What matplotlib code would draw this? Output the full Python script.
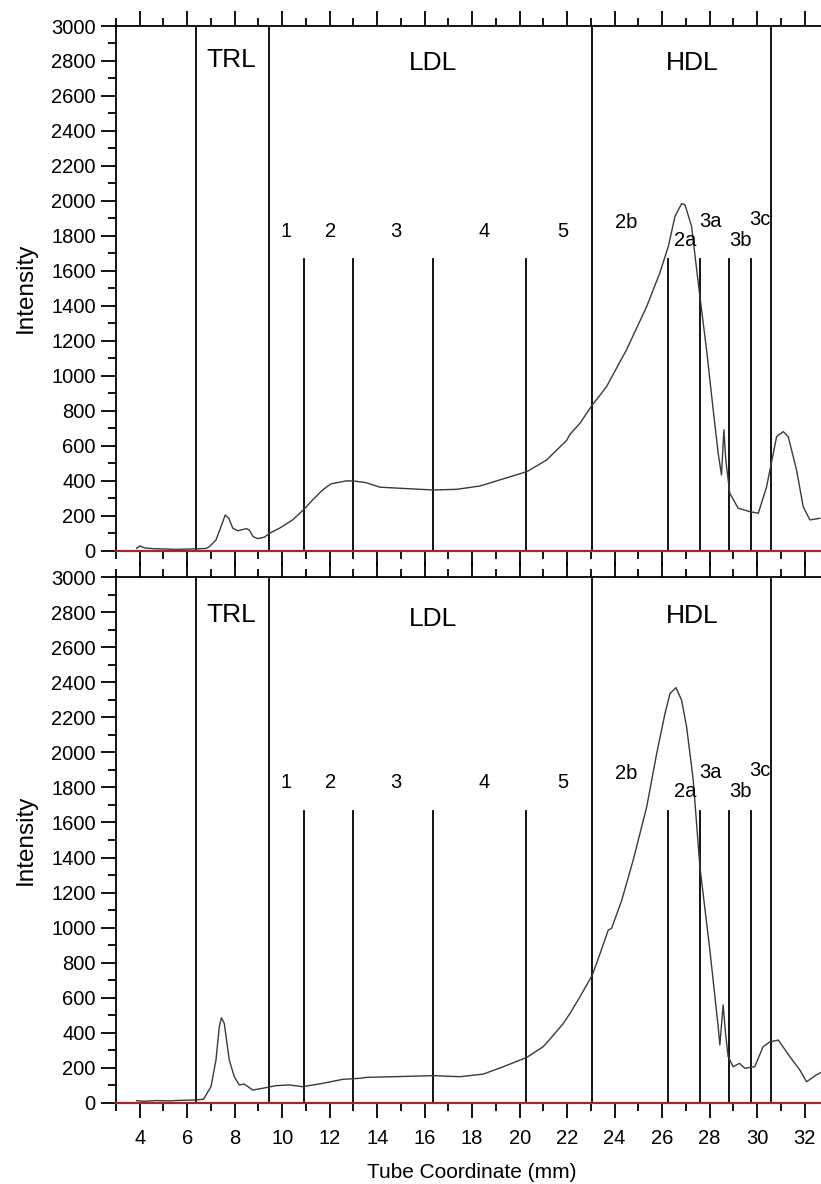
import matplotlib
matplotlib.use("Agg")
import matplotlib.pyplot as plt
from matplotlib.ticker import MultipleLocator

plt.rcParams['font.family'] = ['Liberation Sans', 'DejaVu Sans']

# Densitometric scan profiles (tube coordinate in mm, intensity)
top_x = [3.87, 4.0, 4.2, 4.6, 5.0, 5.5, 6.0, 6.5, 6.8, 6.93, 7.21, 7.42, 7.6, 7.75,
         7.92, 8.13, 8.5, 8.61, 8.78, 8.97, 9.25, 9.46, 9.88, 10.44, 10.89, 11.28,
         11.7, 12.05, 12.69, 13.0, 13.53, 14.12, 14.96, 16.36, 17.35, 18.33, 19.17,
         20.3, 21.14, 21.3, 21.98, 22.12, 22.54, 23.06, 23.38, 23.66, 24.5, 25.35,
         25.9, 26.26, 26.54, 26.82, 26.96, 27.24, 27.52, 27.87, 28.15, 28.36, 28.5,
         28.6, 28.68, 28.85, 29.2, 29.7, 30.05, 30.4, 30.82, 31.1, 31.31, 31.66,
         31.94, 32.22, 32.64]
top_y = [12, 26, 15, 10, 9, 6, 8, 10, 12, 22, 60, 136, 203, 184,
         127, 113, 125, 117, 79, 68, 76, 98, 127, 175, 232, 289,
         346, 381, 398, 398, 388, 362, 356, 346, 350, 369, 404,
         451, 518, 540, 630, 665, 728, 833, 888, 938, 1148, 1396,
         1587, 1739, 1911, 1984, 1978, 1854, 1530, 1148, 804, 556, 432,
         690, 518, 327, 242, 222, 213, 365, 651, 680, 651, 461,
         251, 175, 184]

bot_x = [3.87, 4.2, 4.7, 5.2, 5.7, 6.23, 6.68, 7.0, 7.21, 7.35, 7.44, 7.56, 7.77,
         7.98, 8.19, 8.4, 8.76, 9.18, 9.74, 10.3, 10.86, 11.7, 12.55, 13.28, 13.53,
         14.68, 16.36, 17.49, 18.47, 19.31, 20.3, 20.99, 21.28, 21.84, 22.12, 22.54,
         23.06, 23.38, 23.73, 23.87, 24.3, 24.78, 25.35, 25.77, 26.12, 26.33, 26.58,
         26.82, 27.03, 27.31, 27.59, 28.01, 28.36, 28.43, 28.57, 28.67, 28.78, 28.99,
         29.26, 29.48, 29.9, 30.25, 30.54, 30.89, 31.38, 31.8, 32.08, 32.49, 32.68]
bot_y = [13, 10, 14, 12, 15, 17, 21, 93, 245, 435, 486, 454, 245,
         150, 103, 108, 74, 84, 99, 103, 93, 112, 135, 141, 146,
         150, 156, 150, 165, 207, 260, 321, 365, 454, 511, 606,
         730, 850, 986, 996, 1157, 1385, 1689, 1993, 2221, 2335, 2369,
         2297, 2145, 1841, 1347, 872, 435, 331, 559, 397, 264, 207,
         226, 198, 207, 321, 349, 359, 264, 188, 121, 160, 173]

# Fraction boundaries
class_bounds = [6.36, 9.44, 23.06, 30.6]          # full-height lines
sub_bounds = [10.9, 13.0, 16.35, 20.27, 26.26, 27.58, 28.8, 29.73]  # subfraction lines
sub_top = 1665

class_labels = ['TRL', 'LDL', 'HDL']
class_label_x = [7.85, 16.35, 27.26]
class_label_y_top = [2805, 2790, 2790]
class_label_y_bot = [2783, 2760, 2780]

sub_labels = ['1', '2', '3', '4', '5', '2b', '2a', '3a', '3b', '3c']
sub_label_x = [10.17, 12.02, 14.8, 18.5, 21.8, 24.5, 26.96, 28.04, 29.28, 30.1]
sub_label_y = [1826, 1826, 1826, 1826, 1826, 1878, 1775, 1884, 1775, 1895]

x_ticks = list(range(4, 33, 2))

fig = plt.figure(figsize=(8.21, 11.84), dpi=100)
W, H = 821, 1184
left_px, right_px = 116, 821
ax_top = fig.add_axes([left_px / W, (H - 550.5) / H, (right_px - left_px) / W, 524.5 / H])
ax_bot = fig.add_axes([left_px / W, (H - 1103) / H, (right_px - left_px) / W, 526 / H])

for ax, xs, ys, ly in ((ax_top, top_x, top_y, class_label_y_top),
                       (ax_bot, bot_x, bot_y, class_label_y_bot)):
    ax.set_xlim(3.0, 32.69)
    ax.set_ylim(0, 3000)
    ax.plot(xs, ys, color='#3a3a3a', lw=1.0, zorder=3)
    for xb in class_bounds:
        ax.axvline(xb, color='black', lw=1.3, zorder=2)
    for xb in sub_bounds:
        ax.plot([xb, xb], [0, sub_top], color='black', lw=1.3, zorder=2)
    ax.axhline(0, color='#9e2a2b', lw=1.6, zorder=4, clip_on=False)
    for lab, lx, yy in zip(class_labels, class_label_x, ly):
        ax.text(lx, yy, lab, fontsize=19, ha='center', va='center', zorder=5)
    for lab, lx, yy in zip(sub_labels, sub_label_x, sub_label_y):
        ax.text(lx, yy, lab, fontsize=14.5, ha='center', va='center', zorder=5)

    ax.spines['right'].set_visible(False)
    for s in ('left', 'top', 'bottom'):
        ax.spines[s].set_linewidth(1.3)
    ax.xaxis.set_major_locator(MultipleLocator(2))
    ax.xaxis.set_minor_locator(MultipleLocator(1))
    ax.yaxis.set_major_locator(MultipleLocator(200))
    ax.yaxis.set_minor_locator(MultipleLocator(100))
    ax.tick_params(axis='both', which='major', direction='out', length=11, width=1.3,
                   labelsize=14.5)
    ax.tick_params(axis='both', which='minor', direction='out', length=5.5, width=1.3)
    ax.tick_params(axis='x', which='both', top=True, bottom=True)
    ax.tick_params(axis='y', which='both', right=False)
    ax.set_ylabel('Intensity', fontsize=17.5)
    ax.yaxis.set_label_coords(-0.112, 0.5)

ax_top.tick_params(axis='x', labelbottom=False)
ax_bot.set_xticks(x_ticks)
ax_bot.set_xticklabels([str(t) for t in x_ticks])
ax_bot.tick_params(axis='x', pad=8)
fig.text(472 / W, 1 - 1173 / H, 'Tube Coordinate (mm)', fontsize=15,
         ha='center', va='center')

fig.savefig('out.png', dpi=100)
